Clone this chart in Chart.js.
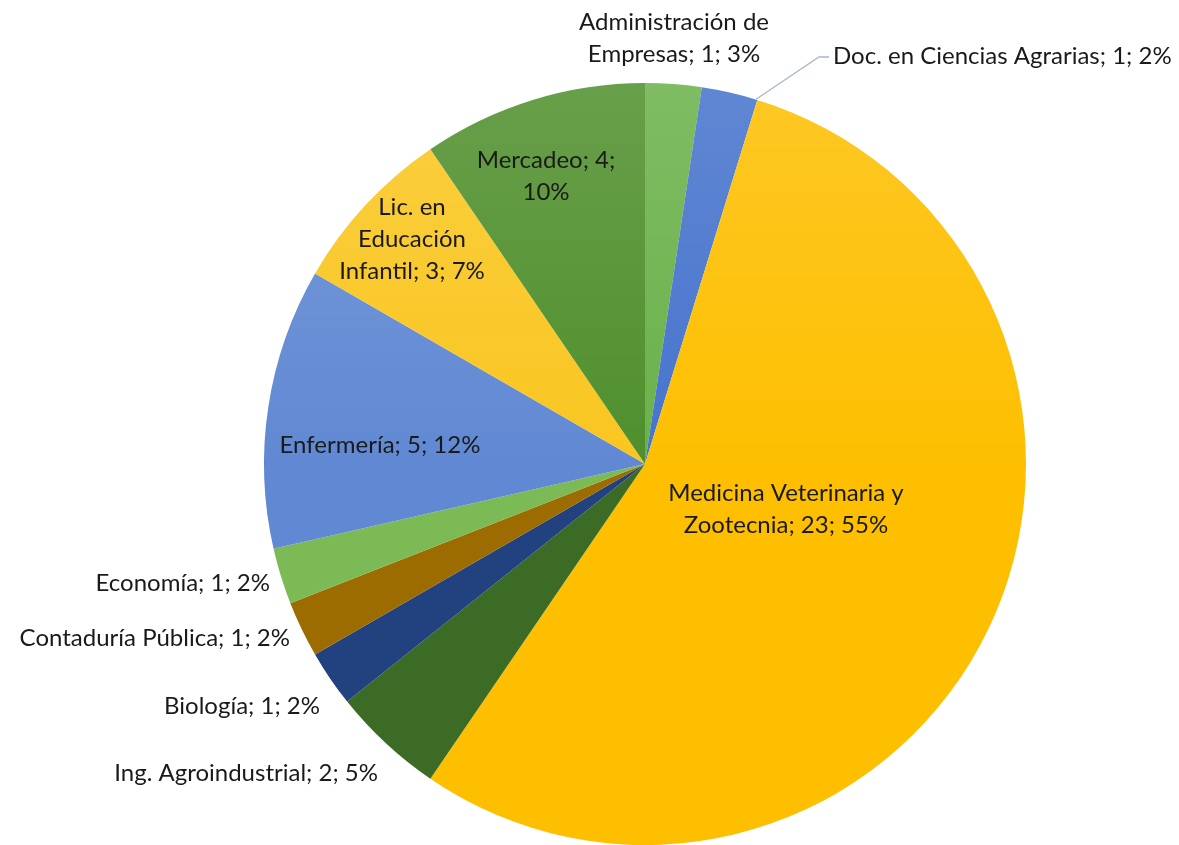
<!DOCTYPE html>
<html>
<head>
<meta charset="utf-8">
<script src="https://cdn.jsdelivr.net/npm/chart.js@4.4.1/dist/chart.umd.min.js"></script>
<style>
  html, body { margin: 0; padding: 0; background: #ffffff; }
  #wrap { width: 1179px; height: 845px; position: relative; }
  canvas { display: block; }
</style>
</head>
<body>
<div id="wrap"><canvas id="c" width="1179" height="845"></canvas></div>
<script>
// ---- data ----
const categories = [
  "Administración de Empresas",
  "Doc. en Ciencias Agrarias",
  "Medicina Veterinaria y Zootecnia",
  "Ing. Agroindustrial",
  "Biología",
  "Contaduría Pública",
  "Economía",
  "Enfermería",
  "Lic. en Educación Infantil",
  "Mercadeo"
];
const counts = [1, 1, 23, 2, 1, 1, 1, 5, 3, 4];
const percents = [3, 2, 55, 5, 2, 2, 2, 12, 7, 10];
const labelLines = [
  ["Administración de", "Empresas; 1; 3%"],
  ["Doc. en Ciencias Agrarias; 1; 2%"],
  ["Medicina Veterinaria y", "Zootecnia; 23; 55%"],
  ["Ing. Agroindustrial; 2; 5%"],
  ["Biología; 1; 2%"],
  ["Contaduría Pública; 1; 2%"],
  ["Economía; 1; 2%"],
  ["Enfermería; 5; 12%"],
  ["Lic. en", "Educación", "Infantil; 3; 7%"],
  ["Mercadeo; 4;", "10%"]
];
const sliceColors = [
  "#6AB14A", "#4673CC", "#FDBF00", "#3C6B26", "#22417F",
  "#9C6C00", "#7CBA55", "#6189D3", "#F9C620", "#4F8F2C"
];

// ---- label layout (offsets from pie centre, in px at radius 381) ----
const labelLayout = [
  { dx: 29,   dy: -442, align: "center" },
  { dx: 188,  dy: -408, align: "left", leader: true },
  { dx: 141,  dy: 29,   align: "center" },
  { dx: -267, dy: 309,  align: "right" },
  { dx: -325, dy: 242,  align: "right" },
  { dx: -355, dy: 174,  align: "right" },
  { dx: -375, dy: 119,  align: "right" },
  { dx: -265, dy: -19,  align: "center" },
  { dx: -233, dy: -257, align: "center" },
  { dx: -99,  dy: -304, align: "center" }
];
const LINE_H = 32;

function lighten(hex, f) {
  const n = parseInt(hex.slice(1), 16);
  let r = (n >> 16) & 255, g = (n >> 8) & 255, b = n & 255;
  r = Math.round(r + (255 - r) * f);
  g = Math.round(g + (255 - g) * f);
  b = Math.round(b + (255 - b) * f);
  return `rgb(${r},${g},${b})`;
}

const labelPlugin = {
  id: "excelLabels",
  afterDatasetsDraw(chart) {
    const ctx = chart.ctx;
    const meta = chart.getDatasetMeta(0);
    ctx.save();
    ctx.font = "24px Lato, 'Open Sans', sans-serif";
    ctx.fillStyle = "#1a1a1a";
    ctx.textBaseline = "middle";
    meta.data.forEach((arc, i) => {
      const s = arc.outerRadius / 381;
      const L = labelLayout[i];
      const x = arc.x + L.dx * s;
      const y = arc.y + L.dy * s;
      ctx.textAlign = L.align;
      labelLines[i].forEach((line, k) => {
        ctx.fillText(line, x, y + k * LINE_H);
      });
      if (L.leader) {
        const a = arc.startAngle + (arc.endAngle - arc.startAngle) * 0.97;
        const sx = arc.x + Math.cos(a) * arc.outerRadius;
        const sy = arc.y + Math.sin(a) * arc.outerRadius;
        ctx.beginPath();
        ctx.strokeStyle = "#A9B8CC";
        ctx.lineWidth = 1.3;
        ctx.moveTo(sx, sy);
        ctx.lineTo(x - 14, y + 1);
        ctx.lineTo(x - 4, y + 1);
        ctx.stroke();
      }
    });
    ctx.restore();
  }
};

new Chart(document.getElementById("c"), {
  type: "pie",
  data: {
    labels: categories,
    datasets: [{
      data: counts,
      backgroundColor: (context) => {
        const chart = context.chart;
        const area = chart.chartArea;
        const base = sliceColors[context.dataIndex];
        if (!area) return base;
        const g = chart.ctx.createLinearGradient(0, area.top, 0, area.bottom);
        g.addColorStop(0, lighten(base, 0.14));
        g.addColorStop(0.5, base);
        g.addColorStop(1, base);
        return g;
      },
      borderWidth: 0,
      hoverOffset: 0
    }]
  },
  options: {
    responsive: false,
    animation: false,
    devicePixelRatio: 1,
    layout: { padding: { top: 83, left: 111, right: 0, bottom: 0 } },
    plugins: {
      legend: { display: false },
      tooltip: { enabled: false },
      title: { display: false }
    },
    events: []
  },
  plugins: [labelPlugin]
});
</script>
</body>
</html>
